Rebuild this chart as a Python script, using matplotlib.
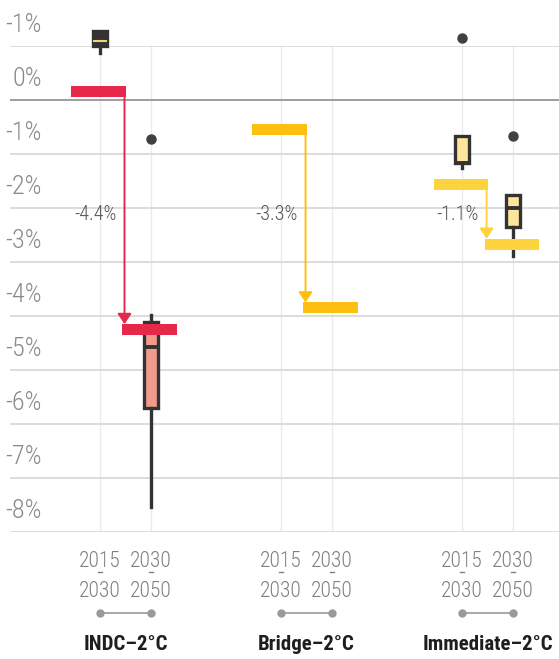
import matplotlib.pyplot as plt
import matplotlib.font_manager as fm
from matplotlib.transforms import ScaledTranslation

# annual rate of change, %
groups = ['INDC–2°C', 'Bridge–2°C', 'Immediate–2°C']
rate_2015_2030 = [0.15, -0.55, -1.57]
rate_change = [-4.4, -3.3, -1.1]
change_labels = ['-4.4%', '-3.3%', '-1.1%']
rate_2030_2050 = [a + d for a, d in zip(rate_2015_2030, rate_change)]

period_top = ['2015', '2030']
period_bottom = ['2030', '2050']

y_ticks = [1, 0, -1, -2, -3, -4, -5, -6, -7, -8]
y_tick_labels = ['-1%', '0%', '-1%', '-2%', '-3%', '-4%', '-5%', '-6%', '-7%', '-8%']

# model ranges (group index, period index, stats)
model_ranges = [
    (0, 0, dict(whislo=0.87, q1=1.00, med=1.09, q3=1.28, whishi=1.28, fliers=[])),
    (0, 1, dict(whislo=-7.54, q1=-5.70, med=-4.57, q3=-4.11, whishi=-3.98, fliers=[-0.72])),
    (2, 0, dict(whislo=-1.26, q1=-1.17, med=-1.17, q3=-0.67, whishi=-0.67, fliers=[1.15])),
    (2, 1, dict(whislo=-2.89, q1=-2.35, med=-2.0, q3=-1.76, whishi=-1.76, fliers=[-0.67])),
]

bar_colors = ['#e8284a', '#fdbf10', '#fed43e']
box_fills = {(0, 0): '#333333', (0, 1): '#f19b8c', (2, 0): '#fde59c', (2, 1): '#fde59c'}
median_colors = {(0, 0): '#f3d27a'}
dark = '#333333'

# pick a narrow face if one is around
installed = {f.name for f in fm.fontManager.ttflist}
narrow = [n for n in ['Roboto Condensed', 'DejaVu Sans Condensed', 'Liberation Sans Narrow',
                      'Open Sans Condensed', 'Roboto', 'Liberation Sans'] if n in installed]
font = narrow[:1] + ['DejaVu Sans']

group_step = 3.55
pos = [[g * group_step, g * group_step + 1] for g in range(len(groups))]

fig = plt.figure(figsize=(5.59, 6.59), dpi=100)
ax = fig.add_axes([10 / 559, 127 / 659, 549 / 559, 486 / 659])
ax.set_xlim(-1.765, 9.0)
ax.set_ylim(-8, 1)

for s in ax.spines.values():
    s.set_visible(False)

# grid
ax.set_yticks(y_ticks)
ax.set_yticklabels(y_tick_labels, fontsize=19, color='#8a8a8a', family=font, fontweight='light')
ax.tick_params(axis='y', length=0, pad=0)
shift = ScaledTranslation(32 / 100, 23 / 100, fig.dpi_scale_trans)
for lab in ax.get_yticklabels():
    lab.set_transform(lab.get_transform() + shift)
ax.set_xticks([p for pp in pos for p in pp])
ax.set_xticklabels([])
ax.tick_params(axis='x', length=0)
ax.grid(axis='y', color='#d9d9d9', lw=1.3, zorder=0)
ax.grid(axis='x', color='#ebebeb', lw=1.0, zorder=0)
ax.axhline(0, color='#9a9a9a', lw=1.3, zorder=1)
ax.set_axisbelow(True)

# box plots
for g, j, st in model_ranges:
    b = ax.bxp([st], positions=[pos[g][j]], widths=0.27, patch_artist=True,
               showcaps=False, manage_ticks=False,
               boxprops=dict(facecolor=box_fills[(g, j)], edgecolor=dark, lw=2.4),
               whiskerprops=dict(color=dark, lw=2.4),
               medianprops=dict(color=median_colors.get((g, j), dark), lw=2.8 if (g, j) != (0, 0) else 1.5,
                                solid_capstyle='butt'),
               flierprops=dict(marker='o', markerfacecolor='#404040', markeredgecolor='#404040',
                               markersize=6.5))
    for art in b['boxes'] + b['whiskers'] + b['medians'] + b['fliers']:
        art.set_zorder(2)
        art.set_clip_on(False)

# average rate bars and arrows
bar_h = 0.2
for g in range(len(groups)):
    c = bar_colors[g]
    vals = [rate_2015_2030[g], rate_2030_2050[g]]
    ax.bar([p - 0.03 for p in pos[g]], [bar_h, bar_h], bottom=[v - bar_h / 2 for v in vals],
           width=1.06, color=c, zorder=3)
    xa = pos[g][0] + 0.48
    ax.annotate('', xy=(xa, vals[1] + bar_h / 2), xytext=(xa, vals[0]),
                arrowprops=dict(arrowstyle='-|>,head_length=0.62,head_width=0.42',
                                color=c, lw=1.4, shrinkA=0, shrinkB=0), zorder=3)
    ax.text(pos[g][0] - 0.08, -2.12, change_labels[g], ha='center', va='center',
            fontsize=14.5, color='#555555', family=font, fontweight='light')

# period labels under each group
xt = ax.get_xaxis_transform()
for g in range(len(groups)):
    for j in range(2):
        x = pos[g][j]
        ax.text(x, -0.06, period_top[j], transform=xt, ha='center', va='center',
                fontsize=15.5, color='#808080', family=font, fontweight='light')
        ax.plot([x - 0.045, x + 0.045], [-0.083, -0.083], transform=xt, color='#808080',
                lw=1.0, clip_on=False)
        ax.text(x, -0.122, period_bottom[j], transform=xt, ha='center', va='center',
                fontsize=15.5, color='#808080', family=font, fontweight='light')
    ax.plot(pos[g], [-0.167, -0.167], transform=xt, color='#9a9a9a', lw=1.2,
            marker='o', ms=5, clip_on=False)
    ax.text(sum(pos[g]) / 2, -0.2325, groups[g], transform=xt, ha='center', va='center',
            fontsize=15, fontweight='bold', color='#1e1e1e', family=font)

fig.savefig('out.png', dpi=100)
